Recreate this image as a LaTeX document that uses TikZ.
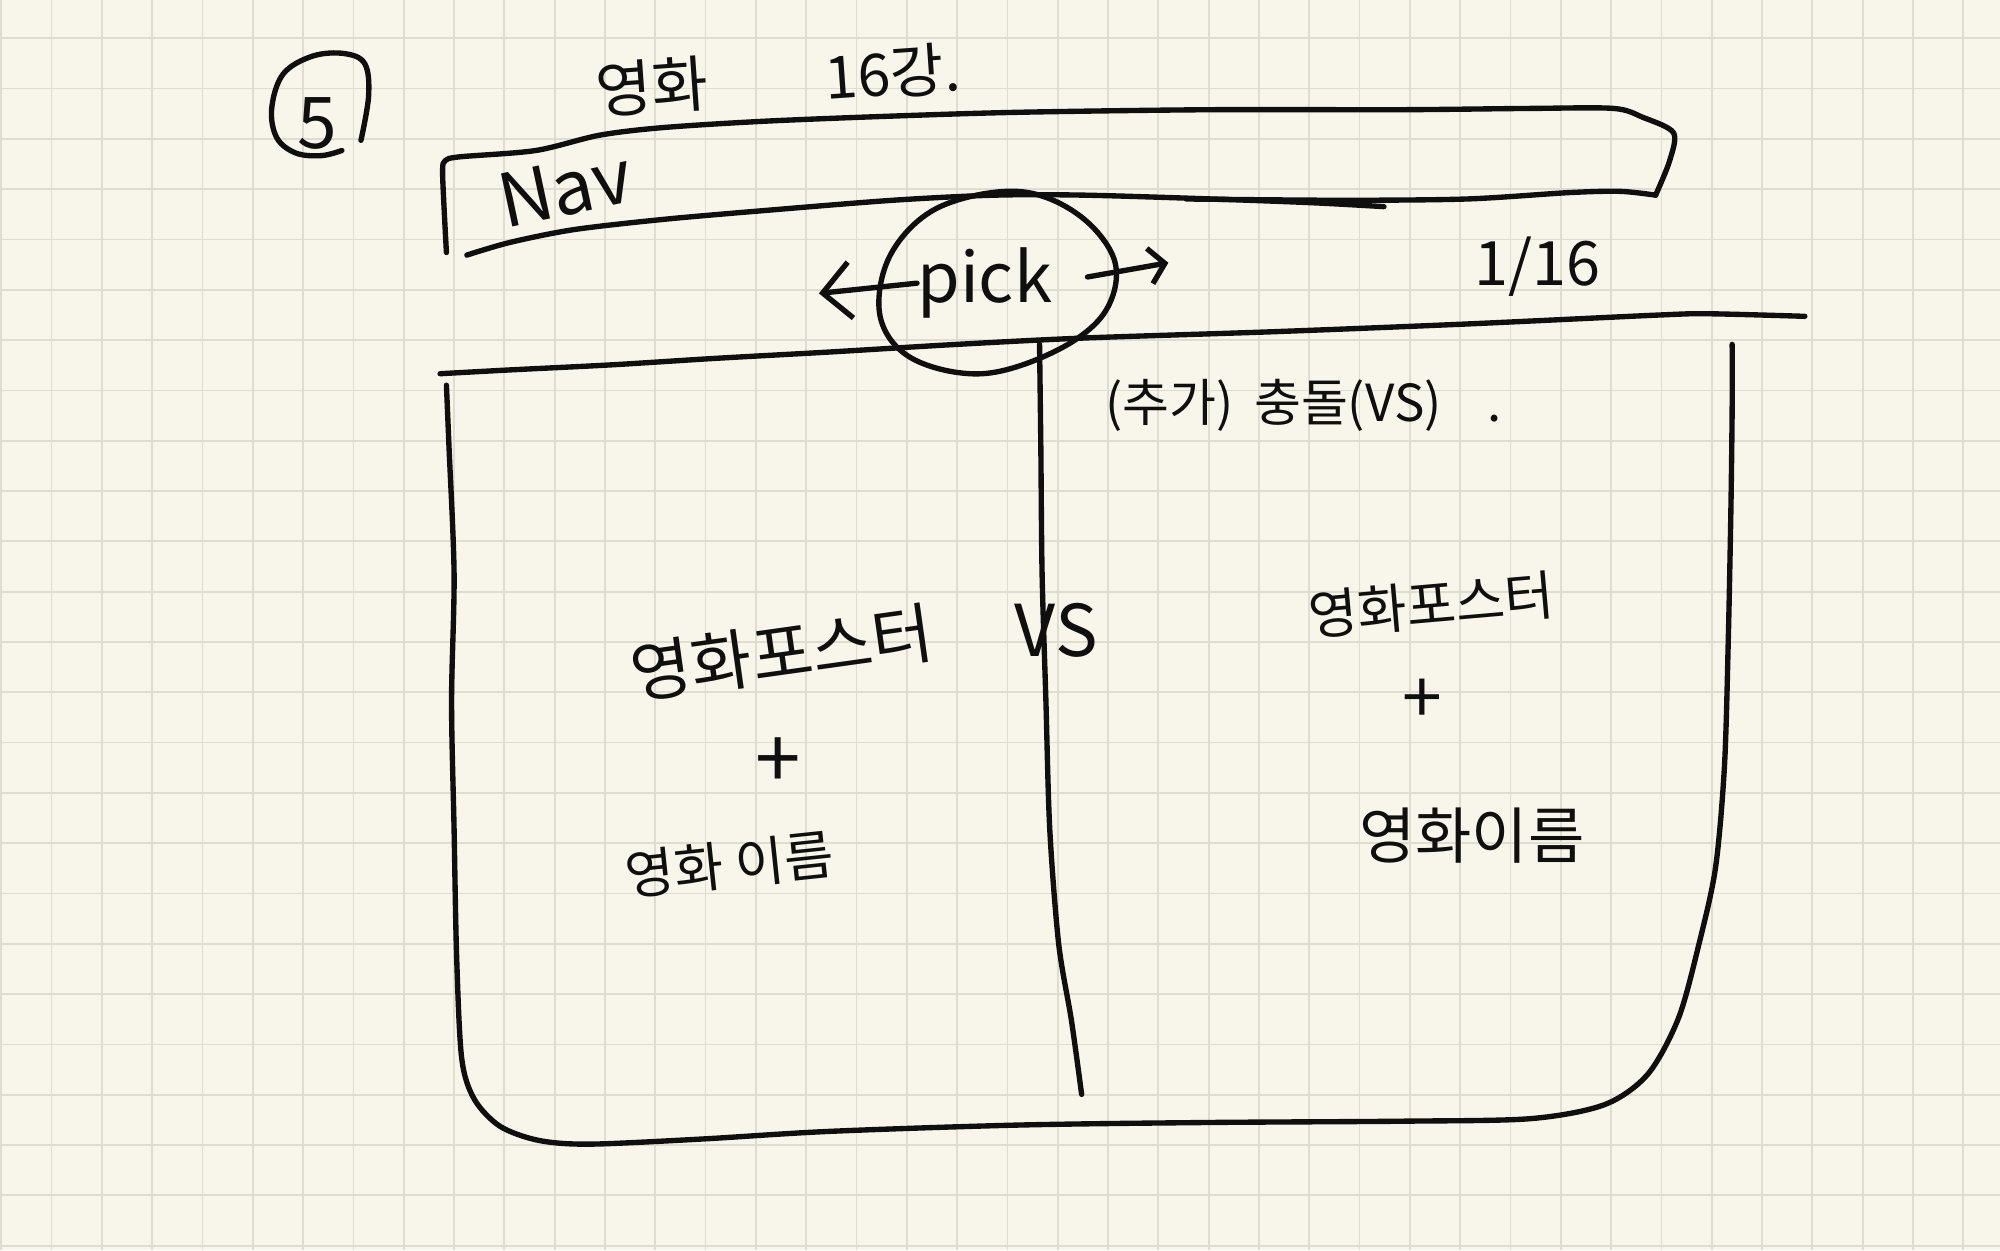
\documentclass[tikz,border=0pt]{standalone}
\usepackage{fontspec}
\setmainfont{Noto Sans CJK KR}
\usetikzlibrary{arrows.meta}
\definecolor{paper}{RGB}{248,246,234}
\definecolor{gridc}{RGB}{223,220,208}
\definecolor{inkc}{RGB}{15,15,15}
\begin{document}
\begin{tikzpicture}[x=1pt,y=-1pt,
  stroke/.style={draw=inkc,line width=4.2pt,line cap=round,line join=round},
  gridline/.style={draw=gridc,line width=1.4pt},
  hand/.style={text=inkc,inner sep=0pt,font=\fontsize{#1}{#1}\selectfont}]
\fill[paper] (0,0) rectangle (1568,980);
\useasboundingbox (0,0) rectangle (1568,980);
\foreach \i in {0,...,39} \draw[gridline] ({1+39.44*\i},0) -- ({1+39.44*\i},980);
\foreach \j in {0,...,24} \draw[gridline] (0,{30+39.44*\j}) -- (1568,{30+39.44*\j});

% circled number
\draw[stroke] plot[smooth,tension=0.6] coordinates {(283,110) (289,75) (286,50) (270,42) (245,44) (222,58) (213,85) (217,108) (232,120) (252,122) (268,118)};
\node[hand=56] (num) at (249,97) {5};

% title
\node[hand=48,rotate=4] (title1) at (511,68) {영화};
\node[hand=46,rotate=4] (title2) at (700,57) {16강.};

% NAV bar
\draw[stroke] plot[smooth,tension=0.5] coordinates {(350,198) (348,160) (347,133) (349,126) (360,123) (420,118) (470,106) (520,100) (600,95) (700,91) (800,88) (950,86) (1100,86) (1200,85) (1265,85) (1288,92) (1312,104) (1309,126) (1298,153)};
\draw[stroke] plot[smooth,tension=0.5] coordinates {(366,200) (400,190) (450,180) (520,172) (600,165) (700,157) (780,153) (850,153) (950,156) (1030,159) (1085,162)};
\draw[stroke] plot[smooth,tension=0.5] coordinates {(930,156) (1050,157) (1150,156) (1230,151) (1270,150) (1298,153)};
\node[hand=58,rotate=12] (nav) at (443,148) {Nav};

% pick selector
\node[hand=54] (pick) at (772,222) {pick};
\draw[stroke] plot[smooth cycle,tension=0.6] coordinates {(797,150) (845,168) (874,205) (866,245) (828,275) (770,293) (715,281) (690,248) (698,200) (735,163)};
\coordinate (lend) at (642,230);
\coordinate (rend) at (916,206);
\draw[stroke,{Straight Barb[length=22pt,width=44pt]}-] (lend) -- (pick.west);
\draw[stroke,-{Straight Barb[length=12pt,width=28pt]},shorten <=28pt] (pick.east) -- (rend);
\node[hand=48] (round) at (1205,209) {1/16};

% line under selector
\draw[stroke] plot[smooth,tension=0.5] coordinates {(345,293) (400,290) (480,286) (560,281) (650,276) (750,270) (850,265) (1000,260) (1150,254) (1300,247) (1340,246) (1415,248)};

% main panel
\draw[stroke] plot[smooth,tension=0.5] coordinates {(350,302) (352,350) (356,450) (354,550) (356,650) (358,750) (362,830) (372,862) (392,883) (422,894) (462,897) (550,893) (650,887) (800,882) (950,880) (1100,879) (1200,877) (1258,866) (1292,842) (1316,798) (1332,740) (1345,680) (1352,600) (1355,500) (1357,400) (1358,320) (1358,270)};
\draw[stroke] plot[smooth,tension=0.5] coordinates {(815,270) (816,350) (817,450) (820,550) (823,650) (830,740) (840,800) (848,858)};

\node[hand=40] (extra) at (1022,318) {(추가)\hspace{0.4em}충돌(VS)\hspace{0.9em}.};

% left movie
\node[hand=52,rotate=8] (lposter) at (613,512) {영화포스터};
\node[hand=56] (vs) at (828,494) {VS};
\node[hand=64] (lplus) at (610,598) {+};
\node[hand=42,rotate=6] (lname) at (572,678) {영화 이름};

% right movie
\node[hand=42,rotate=5] (rposter) at (1122,474) {영화포스터};
\node[hand=56] (rplus) at (1115,550) {+};
\node[hand=48] (rname) at (1154,655) {영화이름};
\end{tikzpicture}
\end{document}
